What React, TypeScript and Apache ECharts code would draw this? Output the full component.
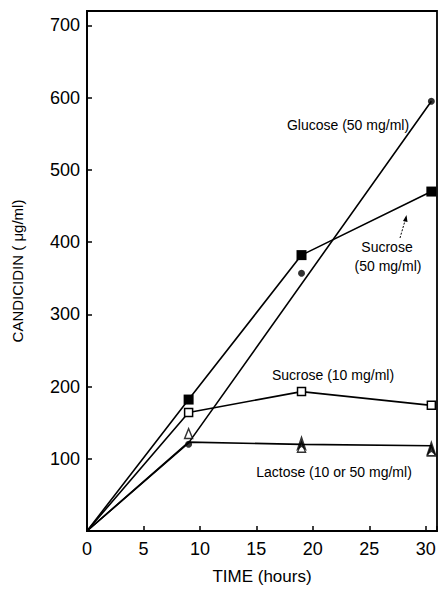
import React, { useEffect, useRef } from "react";
import * as echarts from "echarts";

// Time (hours) / candicidin (µg/ml)
const sucrose50: [number, number][] = [[0, 0], [9, 182], [19, 382], [30.5, 470]];
const sucrose10: [number, number][] = [[0, 0], [9, 164], [19, 193], [30.5, 174]];
const glucoseLine: [number, number][] = [[0, 0], [9, 122], [30.5, 595]];
const glucosePoints: [number, number][] = [[9, 120], [19, 357], [30.5, 595]];
const lactoseLine: [number, number][] = [[0, 0], [9, 123], [19, 120], [30.5, 118]];
const lactoseOpen: [number, number][] = [[9, 135], [19, 116], [30.5, 111]];
const lactoseFilled: [number, number][] = [[19, 133], [30.5, 126]];

const xTicks = [0, 5, 10, 15, 20, 25, 30];
const yTicks = [100, 200, 300, 400, 500, 600, 700];

const FONT = "Liberation Sans";

export default function App() {
  const ref = useRef<HTMLDivElement>(null);
  useEffect(() => {
    if (!ref.current) return;
    const chart = echarts.init(ref.current, undefined, { renderer: "svg" });
    const lineStyle = { color: "#000", width: 1.6 };
    const withOriginHidden = (arr: [number, number][]) =>
      arr.map((p) => (p[0] === 0 && p[1] === 0 ? { value: p, symbol: "none" } : { value: p }));
    const textStyle = (t: string, x: number, y: number, size = 14) => ({
      type: "text",
      x,
      y,
      style: {
        text: t,
        fill: "#000",
        font: `${size}px "${FONT}"`,
        textAlign: "center",
        textVerticalAlign: "middle",
      },
    });
    chart.setOption({
      animation: false,
      backgroundColor: "#fff",
      grid: {
        left: 87,
        top: 11,
        width: 354,
        height: 525,
        show: true,
        borderColor: "#000",
        borderWidth: 1.8,
        backgroundColor: "transparent",
      },
      xAxis: {
        type: "value",
        min: 0,
        max: 31,
        interval: 5,
        axisLine: { show: true, lineStyle: { color: "#000", width: 1.8 } },
        axisTick: { show: true, inside: true, length: 5, lineStyle: { color: "#000", width: 1.5 } },
        splitLine: { show: false },
        axisLabel: {
          color: "#000",
          fontFamily: FONT,
          fontSize: 18,
          margin: 9,
          formatter: (v: number) => (xTicks.includes(v) ? String(v) : ""),
        },
        name: "TIME (hours)",
        nameLocation: "middle",
        nameGap: 37,
        nameTextStyle: { color: "#000", fontFamily: FONT, fontSize: 17 },
      },
      yAxis: {
        type: "value",
        min: 0,
        max: 720,
        interval: 100,
        axisLine: { show: true, lineStyle: { color: "#000", width: 1.8 } },
        axisTick: { show: true, inside: true, length: 5, lineStyle: { color: "#000", width: 1.5 } },
        splitLine: { show: false },
        axisLabel: {
          color: "#000",
          fontFamily: FONT,
          fontSize: 18,
          margin: 7,
          formatter: (v: number) => (yTicks.includes(v) ? String(v) : ""),
        },
        name: "CANDICIDIN ( \u03bcg/ml)",
        nameLocation: "middle",
        nameGap: 62,
        nameRotate: 90,
        nameTextStyle: { color: "#000", fontFamily: FONT, fontSize: 15 },
      },
      series: [
        {
          type: "line",
          data: withOriginHidden(sucrose50),
          symbol: "rect",
          symbolSize: 10,
          lineStyle,
          itemStyle: { color: "#000" },
          z: 3,
        },
        {
          type: "line",
          data: withOriginHidden(sucrose10),
          symbol: "rect",
          symbolSize: 8,
          lineStyle,
          itemStyle: { color: "#fff", borderColor: "#000", borderWidth: 1.5 },
          z: 3,
        },
        {
          type: "line",
          data: glucoseLine,
          showSymbol: false,
          symbol: "none",
          lineStyle,
          z: 2,
        },
        {
          type: "scatter",
          data: glucosePoints,
          symbol: "circle",
          symbolSize: 7,
          itemStyle: { color: "#000" },
          z: 4,
        },
        {
          type: "line",
          data: lactoseLine,
          symbol: "none",
          lineStyle,
          z: 2,
        },
        {
          type: "scatter",
          data: lactoseOpen,
          symbol: "triangle",
          symbolSize: [8, 10],
          itemStyle: { color: "#fff", borderColor: "#000", borderWidth: 1.5 },
          z: 4,
        },
        {
          type: "scatter",
          data: lactoseFilled,
          symbol: "arrow",
          symbolSize: [8, 16],
          itemStyle: { color: "#000" },
          z: 5,
        },
      ],
      graphic: [
        textStyle("Glucose (50 mg/ml)", 348, 125),
        textStyle("Sucrose", 387, 247),
        textStyle("(50 mg/ml)", 388, 266),
        textStyle("Sucrose (10 mg/ml)", 333, 375),
        textStyle("Lactose (10 or 50 mg/ml)", 334, 472),
        {
          type: "line",
          shape: { x1: 400, y1: 238, x2: 405.5, y2: 219 },
          style: { stroke: "#000", lineWidth: 1, lineDash: [2, 1.5] },
        },
        {
          type: "polygon",
          shape: { points: [[406.5, 215], [403, 221], [407.5, 222]] },
          style: { fill: "#000" },
        },
      ],
    });
    return () => chart.dispose();
  }, []);
  return (
    <div
      ref={ref}
      style={{ position: "fixed", left: 0, top: 0, width: 440, height: 590, background: "#fff" }}
    />
  );
}
